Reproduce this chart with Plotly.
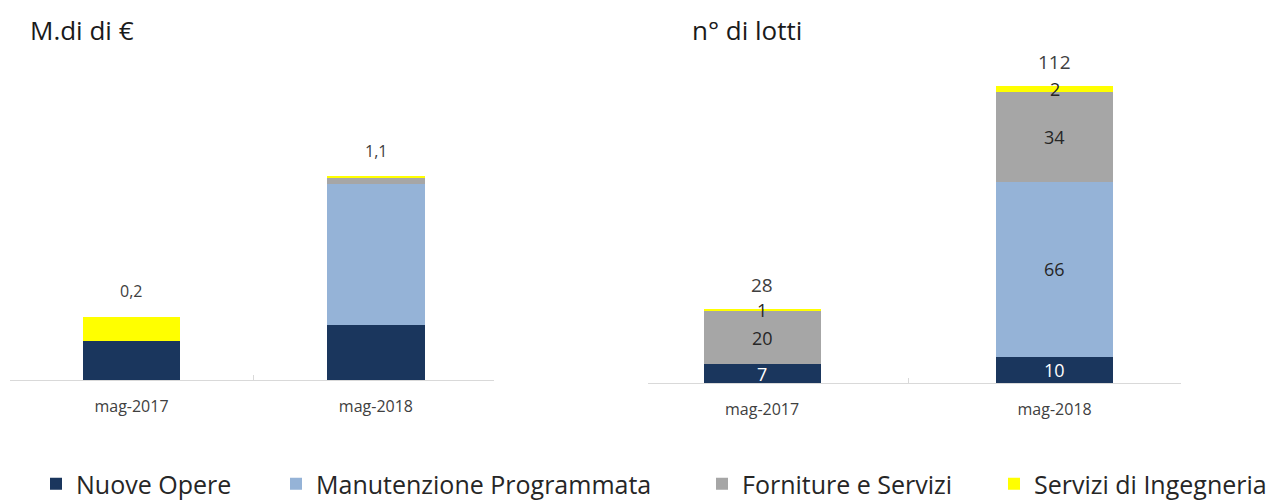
import plotly.graph_objects as go

categories = ["mag-2017", "mag-2018"]
series_names = ["Nuove Opere", "Manutenzione Programmata", "Forniture e Servizi", "Servizi di Ingegneria"]
colors = ["#1A365D", "#95B3D7", "#A6A6A6", "#FFFF00"]

# Left chart: billions of euro
eur_nuove = [0.21, 0.30]
eur_manut = [0.0, 0.76]
eur_forn = [0.0, 0.035]
eur_serv = [0.13, 0.006]
eur_total_labels = ["0,2", "1,1"]

# Right chart: number of lots
lot_nuove = [7, 10]
lot_manut = [0, 66]
lot_forn = [20, 34]
lot_serv = [1, 2]
lot_total_labels = ["28", "112"]

FONT = "Open Sans"
eur = [eur_nuove, eur_manut, eur_forn, eur_serv]
lots = [lot_nuove, lot_manut, lot_forn, lot_serv]

fig = go.Figure()
legend_ids = ["legend", "legend2", "legend3", "legend4"]
for i, name in enumerate(series_names):
    fig.add_trace(go.Bar(x=categories, y=eur[i], name=name, marker=dict(color=colors[i], line=dict(width=0)),
                         width=0.4, xaxis="x", yaxis="y", showlegend=True, legend=legend_ids[i],
                         legendgroup=name, hoverinfo="skip"))
for i, name in enumerate(series_names):
    fig.add_trace(go.Bar(x=categories, y=lots[i], name=name, marker=dict(color=colors[i], line=dict(width=0)),
                         width=0.4, xaxis="x2", yaxis="y2", showlegend=False, legendgroup=name,
                         hoverinfo="skip"))

annotations = []
# totals left
for c, parts, lab in zip(categories, zip(*eur), eur_total_labels):
    annotations.append(dict(x=c, y=sum(parts), xref="x", yref="y", text=lab, showarrow=False,
                            yshift=26, font=dict(family=FONT, size=16, color="#404040")))
# totals right
for c, parts, lab in zip(categories, zip(*lots), lot_total_labels):
    annotations.append(dict(x=c, y=sum(parts), xref="x2", yref="y2", text=lab, showarrow=False,
                            yshift=24, font=dict(family=FONT, size=19, color="#404040")))
# segment labels right
label_colors = ["#FFFFFF", "#262626", "#262626", "#262626"]
for j, c in enumerate(categories):
    base = 0
    for i in range(4):
        v = lots[i][j]
        if v > 0:
            annotations.append(dict(x=c, y=base + v / 2, xref="x2", yref="y2", text=str(v), showarrow=False,
                                    font=dict(family=FONT, size=18, color=label_colors[i])))
        base += v

annotations.append(dict(x=28 / 1284, y=(502 - 30) / 502, xref="paper", yref="paper", xanchor="left",
                        yanchor="middle", text="M.di di €", showarrow=False,
                        font=dict(family=FONT, size=26, color="#1a1a1a")))
annotations.append(dict(x=690 / 1284, y=(502 - 30) / 502, xref="paper", yref="paper", xanchor="left",
                        yanchor="middle", text="n° di lotti", showarrow=False,
                        font=dict(family=FONT, size=26, color="#1a1a1a")))

xaxis_common = dict(type="category", showline=True, linecolor="#D9D9D9", linewidth=1, showgrid=False,
                    zeroline=False, ticks="inside", tickson="boundaries", ticklen=5, tickcolor="#D9D9D9",
                    tickfont=dict(family=FONT, size=16, color="#404040"), ticklabelstandoff=12,
                    fixedrange=True)
yaxis_common = dict(visible=False, showgrid=False, zeroline=False, fixedrange=True)

leg_x = [36, 276, 702, 994]
legends = {}
for lid, lx in zip(legend_ids, leg_x):
    legends[lid] = dict(x=lx / 1284, y=(502 - 484) / 502, xanchor="left", yanchor="middle",
                        orientation="h", bgcolor="rgba(0,0,0,0)", borderwidth=0,
                        font=dict(family=FONT, size=25, color="#262626"), itemclick=False,
                        itemdoubleclick=False)

fig.update_layout(
    width=1284, height=502,
    margin=dict(l=0, r=0, t=0, b=0, autoexpand=False),
    paper_bgcolor="white", plot_bgcolor="white",
    barmode="stack",
    xaxis=dict(domain=[10 / 1284, 494 / 1284], range=[-0.497, 1.483], anchor="y", **xaxis_common),
    yaxis=dict(domain=[122 / 502, 452 / 502], range=[0, 330 / 184.5], anchor="x", **yaxis_common),
    xaxis2=dict(domain=[648 / 1284, 1181 / 1284], range=[-0.39, 1.432], anchor="y2", **xaxis_common),
    yaxis2=dict(domain=[119 / 502, 452 / 502], range=[0, 333 / 2.65], anchor="x2", **yaxis_common),
    annotations=annotations,
    **legends,
)

fig.write_html("out.html")
